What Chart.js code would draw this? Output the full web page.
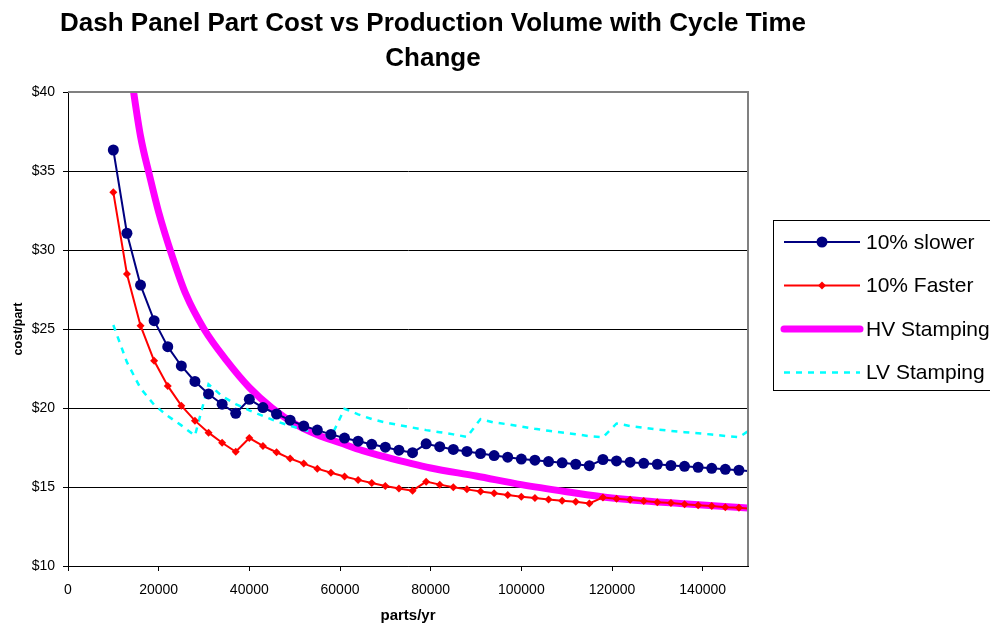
<!DOCTYPE html>
<html>
<head>
<meta charset="utf-8">
<title>Dash Panel Part Cost vs Production Volume</title>
<script src="https://cdn.jsdelivr.net/npm/chart.js@4/dist/chart.umd.min.js"></script>
<style>
  html, body { margin: 0; padding: 0; background: #fff; }
</style>
</head>
<body>
<canvas id="myChart" width="990" height="625"></canvas>
<script>
// production volume (parts/yr) for the two cycle time cases and LV stamping
const parts = [10000, 13000, 16000, 19000, 22000, 25000, 28000, 31000, 34000, 37000,
    40000, 43000, 46000, 49000, 52000, 55000, 58000, 61000, 64000, 67000,
    70000, 73000, 76000, 79000, 82000, 85000, 88000, 91000, 94000, 97000,
    100000, 103000, 106000, 109000, 112000, 115000, 118000, 121000, 124000, 127000,
    130000, 133000, 136000, 139000, 142000, 145000, 148000, 151000];

const slower = [36.33, 31.06, 27.78, 25.53, 23.88, 22.66, 21.68, 20.89, 20.24, 19.66,
    20.55, 20.03, 19.62, 19.23, 18.86, 18.60, 18.33, 18.10, 17.90, 17.70,
    17.52, 17.33, 17.17, 17.73, 17.55, 17.38, 17.25, 17.12, 16.99, 16.89,
    16.77, 16.70, 16.61, 16.53, 16.44, 16.35, 16.74, 16.65, 16.57, 16.50,
    16.44, 16.36, 16.31, 16.25, 16.18, 16.12, 16.06, 16.00];

const faster = [33.65, 28.48, 25.21, 22.99, 21.40, 20.15, 19.20, 18.44, 17.80, 17.23,
    18.10, 17.60, 17.20, 16.80, 16.48, 16.16, 15.90, 15.66, 15.45, 15.25,
    15.06, 14.91, 14.77, 15.34, 15.15, 14.98, 14.85, 14.72, 14.60, 14.49,
    14.38, 14.30, 14.21, 14.13, 14.06, 13.96, 14.34, 14.25, 14.19, 14.11,
    14.04, 13.98, 13.91, 13.85, 13.79, 13.72, 13.68, 13.62];

const lvStamping = [25.25, 22.90, 21.25, 20.20, 19.50, 18.90, 18.25, 21.50, 20.75, 20.25,
    19.85, 19.50, 19.15, 18.88, 18.62, 18.40, 18.15, 19.95, 19.60, 19.30,
    19.08, 18.92, 18.76, 18.60, 18.47, 18.33, 18.17, 19.30, 19.08, 18.97,
    18.83, 18.68, 18.56, 18.45, 18.34, 18.22, 18.15, 19.02, 18.86, 18.75,
    18.64, 18.55, 18.47, 18.40, 18.32, 18.23, 18.15, 18.72];

// HV stamping curve
const hvParts = [14000, 16000, 18000, 20000, 23000, 26000, 30000, 35000, 40000, 45000,
    50000, 55000, 60000, 65000, 70000, 80000, 90000, 100000, 110000, 120000,
    135000, 151000];
const hvStamping = [40.9, 37.2, 34.7, 32.4, 29.6, 27.2, 25.0, 23.0, 21.3, 20.0,
    19.0, 18.3, 17.8, 17.3, 16.9, 16.2, 15.7, 15.15, 14.7, 14.3,
    13.95, 13.65];

const xTicks = [0, 20000, 40000, 60000, 80000, 100000, 120000, 140000];

const fontFamily = "'Liberation Sans', Arial, sans-serif";
Chart.defaults.font.family = fontFamily;
Chart.defaults.color = '#000';

function points(xs, ys) {
    return xs.map((x, i) => ({ x: x, y: ys[i] }));
}

// grey frame on the top and right edges of the plot area
const plotFrame = {
    id: 'plotFrame',
    afterDraw(chart) {
        const { ctx, chartArea: a } = chart;
        ctx.save();
        ctx.strokeStyle = '#808080';
        ctx.lineWidth = 2;
        ctx.beginPath();
        ctx.moveTo(a.left, a.top);
        ctx.lineTo(a.right, a.top);
        ctx.lineTo(a.right, a.bottom);
        ctx.stroke();
        ctx.restore();
    }
};

// boxed legend to the right of the plot
const sideLegend = {
    id: 'sideLegend',
    afterDraw(chart) {
        const ctx = chart.ctx;
        ctx.save();
        ctx.fillStyle = '#fff';
        ctx.fillRect(774, 221, 240, 169);
        ctx.strokeStyle = '#000';
        ctx.lineWidth = 1;
        ctx.strokeRect(773.5, 220.5, 240, 170);

        chart.data.datasets.forEach((ds, i) => {
            const y = 242 + i * 43.5;
            ctx.save();
            ctx.strokeStyle = ds.borderColor;
            ctx.lineWidth = ds.borderWidth;
            ctx.lineCap = ds.legendCap || 'butt';
            ctx.setLineDash(ds.borderDash || []);
            ctx.beginPath();
            ctx.moveTo(784, y);
            ctx.lineTo(860, y);
            ctx.stroke();
            ctx.restore();

            if (ds.pointRadius > 0) {
                const r = ds.pointRadius;
                ctx.fillStyle = ds.pointBackgroundColor;
                ctx.beginPath();
                if (ds.pointStyle === 'rectRot') {
                    ctx.moveTo(822, y - r);
                    ctx.lineTo(822 + r, y);
                    ctx.lineTo(822, y + r);
                    ctx.lineTo(822 - r, y);
                    ctx.closePath();
                } else {
                    ctx.arc(822, y, r, 0, Math.PI * 2);
                }
                ctx.fill();
            }

            ctx.fillStyle = '#000';
            ctx.font = '21px ' + fontFamily;
            ctx.textBaseline = 'middle';
            ctx.fillText(ds.label, 866, y + 1);
        });
        ctx.restore();
    }
};

const ctx = document.getElementById('myChart').getContext('2d');
new Chart(ctx, {
    type: 'line',
    data: {
        datasets: [{
            label: '10% slower',
            data: points(parts, slower),
            borderColor: '#000080',
            backgroundColor: '#000080',
            borderWidth: 2,
            pointRadius: 5.5,
            pointStyle: 'circle',
            pointBackgroundColor: '#000080',
            pointBorderColor: '#000080',
            pointBorderWidth: 0,
            clip: 0,
            order: 1
        }, {
            label: '10% Faster',
            data: points(parts, faster),
            borderColor: '#ff0000',
            backgroundColor: '#ff0000',
            borderWidth: 2,
            pointRadius: 4,
            pointStyle: 'rectRot',
            pointBackgroundColor: '#ff0000',
            pointBorderColor: '#ff0000',
            pointBorderWidth: 0,
            clip: 0,
            order: 2
        }, {
            label: 'HV Stamping',
            data: points(hvParts, hvStamping),
            borderColor: '#ff00ff',
            backgroundColor: '#ff00ff',
            borderWidth: 7,
            legendCap: 'round',
            pointRadius: 0,
            cubicInterpolationMode: 'monotone',
            clip: 0,
            order: 4
        }, {
            label: 'LV Stamping',
            data: points(parts, lvStamping),
            borderColor: '#00ffff',
            backgroundColor: '#00ffff',
            borderWidth: 2.5,
            borderDash: [6, 6],
            pointRadius: 0,
            clip: 0,
            order: 3
        }]
    },
    options: {
        responsive: false,
        animation: false,
        events: [],
        layout: { padding: { left: 0, right: 124, top: 0, bottom: 0 } },
        scales: {
            x: {
                type: 'linear',
                min: 0,
                max: 150000,
                afterFit: scale => { scale.height = 59; },
                afterBuildTicks: scale => { scale.ticks = xTicks.map(v => ({ value: v })); },
                ticks: {
                    font: { size: 14 },
                    color: '#000',
                    padding: 11,
                    maxRotation: 0,
                    callback: value => String(value)
                },
                grid: { drawOnChartArea: false, drawTicks: true, tickLength: 5, tickColor: '#000' },
                border: { color: '#000', width: 1 },
                title: {
                    display: true,
                    text: 'parts/yr',
                    font: { size: 15, weight: 'bold' },
                    color: '#000',
                    padding: { top: 0, bottom: 0 }
                }
            },
            y: {
                min: 10,
                max: 40,
                afterFit: scale => { scale.width = 68; },
                ticks: {
                    stepSize: 5,
                    font: { size: 14 },
                    color: '#000',
                    padding: 8,
                    callback: value => '$' + value
                },
                grid: { color: '#000', lineWidth: 1, drawTicks: true, tickLength: 5, tickColor: '#000' },
                border: { color: '#000', width: 1 },
                title: {
                    display: true,
                    text: 'cost/part',
                    font: { size: 12.5, weight: 'bold' },
                    color: '#000',
                    padding: { top: 11.5, bottom: 0 }
                }
            },
            side: {
                type: 'linear',
                position: 'right',
                display: true,
                afterFit: scale => { scale.width = 118; },
                ticks: { display: false },
                grid: { drawOnChartArea: false, drawTicks: false },
                border: { display: false }
            }
        },
        plugins: {
            legend: { display: false },
            tooltip: { enabled: false },
            title: {
                display: true,
                text: ['Dash Panel Part Cost vs Production Volume with Cycle Time', 'Change'],
                color: '#000',
                font: { size: 26, weight: 'bold', lineHeight: '35px' },
                padding: { top: 6.5, bottom: 15.5 }
            }
        }
    },
    plugins: [plotFrame, sideLegend]
});
</script>
</body>
</html>
